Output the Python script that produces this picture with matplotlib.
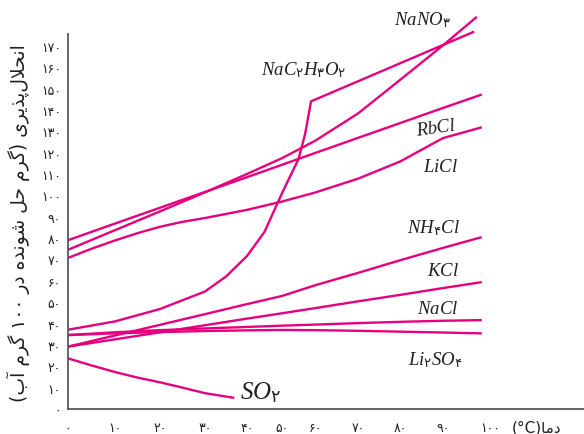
import numpy as np
import matplotlib
matplotlib.use('Agg')
from matplotlib import pyplot as plt

# temperatures (C) and solubilities (g per 100 g water)
temps = [0, 10, 20, 30, 40, 50, 60, 70, 80, 90, 98]
RbCl = [79.0, 86.8, 94.2, 101.6, 108.5, 114.3, 119.8, 126.9, 133.8, 140.9, 147.0]
NH4Cl = [29.2, 34.4, 39.4, 44.4, 49.1, 52.9, 57.9, 63.7, 69.6, 75.4, 80.3]
KCl = [29.2, 32.6, 35.9, 39.2, 42.3, 44.8, 47.2, 50.4, 53.4, 56.6, 59.3]
NaCl = [34.6, 35.9, 36.9, 37.7, 38.4, 39.0, 39.5, 40.2, 40.8, 41.3, 41.6]
Li2SO4 = [34.6, 35.4, 36.0, 36.5, 36.8, 37.0, 36.9, 36.6, 36.2, 35.8, 35.4]

LiCl_t = [0, 5, 10, 15, 20, 25, 30, 40, 50, 60, 70, 80, 90, 98]
LiCl = [70.7, 75.0, 78.9, 82.3, 85.3, 87.6, 89.4, 93.2, 97.1, 101.3, 107.8, 115.8, 126.8, 131.7]

NaNO3_t = [0, 10, 20, 30, 40, 50, 60, 70, 80, 90, 97]
NaNO3 = [74.5, 83.7, 92.5, 101.4, 110.0, 117.4, 125.5, 138.3, 154.0, 170.2, 183.2]

NaAc_t = [0, 10, 20, 30, 35, 40, 45, 50, 55, 57, 58.8, 96.4]
NaAc = [37.1, 41.0, 46.8, 55.0, 62.0, 71.6, 82.9, 101.0, 117.0, 128.7, 144.0, 176.4]

SO2_t = [0, 5, 10, 15, 20, 25, 30, 36.7]
SO2 = [23.7, 20.4, 17.3, 14.7, 12.5, 10.0, 7.4, 5.3]

xticks = [0, 10, 20, 30, 40, 50, 60, 70, 80, 90, 100]
yticks = list(range(0, 171, 10))

ylabel = 'انحلال‌پذیری (گرم حل شونده در ۱۰۰ گرم آب)'
xlabel = 'دما'

# the printed temperature axis is not evenly spaced
tick_px = [0, 47, 92, 137, 179, 214, 247, 290, 332, 375, 422, 516]
tick_t = xticks + [120]


def fwd(t):
    return np.interp(t, tick_t, tick_px)


def inv(p):
    return np.interp(p, tick_px, tick_t)


# --- tiny persian shaper (matplotlib 3.10 does no arabic shaping) ---
FORMS = {
    'ا': (0xFE8D, 0xFE8E), 'آ': (0xFE81, 0xFE82),
    'د': (0xFEA9, 0xFEAA), 'ذ': (0xFEAB, 0xFEAC),
    'ر': (0xFEAD, 0xFEAE), 'و': (0xFEED, 0xFEEE),
    'ب': (0xFE8F, 0xFE90, 0xFE91, 0xFE92), 'پ': (0xFB56, 0xFB57, 0xFB58, 0xFB59),
    'ح': (0xFEA1, 0xFEA2, 0xFEA3, 0xFEA4), 'ش': (0xFEB5, 0xFEB6, 0xFEB7, 0xFEB8),
    'گ': (0xFB92, 0xFB93, 0xFB94, 0xFB95), 'ل': (0xFEDD, 0xFEDE, 0xFEDF, 0xFEE0),
    'م': (0xFEE1, 0xFEE2, 0xFEE3, 0xFEE4), 'ن': (0xFEE5, 0xFEE6, 0xFEE7, 0xFEE8),
    'ه': (0xFEE9, 0xFEEA, 0xFEEB, 0xFEEC), 'ی': (0xFBFC, 0xFBFD, 0xFBFE, 0xFBFF),
}
LAMALEF = {'ا': (0xFEFB, 0xFEFC), 'آ': (0xFEF5, 0xFEF6)}
DIGITS = '۰۱۲۳۴۵۶۷۸۹'
MIRROR = {'(': ')', ')': '('}


def shape(s):
    out = []
    i = 0
    while i < len(s):
        c = s[i]
        if c not in FORMS:
            if c != '\u200c':
                out.append(c)
            i += 1
            continue
        prev_join = i > 0 and s[i - 1] in FORMS and len(FORMS[s[i - 1]]) == 4
        if c == 'ل' and i + 1 < len(s) and s[i + 1] in LAMALEF:
            out.append(chr(LAMALEF[s[i + 1]][1 if prev_join else 0]))
            i += 2
            continue
        f = FORMS[c]
        next_join = len(f) == 4 and i + 1 < len(s) and s[i + 1] in FORMS
        if len(f) == 2:
            out.append(chr(f[1] if prev_join else f[0]))
        else:
            out.append(chr(f[(1 if prev_join else 0) + (2 if next_join else 0)] if not (prev_join and next_join) else f[3]))
        i += 1
    shaped = ''.join(out)
    # visual order: digit runs stay left-to-right, the rest is reversed
    runs, cur, cur_d = [], '', None
    for ch in shaped:
        d = ch in DIGITS
        if cur and d != cur_d:
            runs.append((cur, cur_d))
            cur = ''
        cur += ch
        cur_d = d
    runs.append((cur, cur_d))
    vis = ''
    for txt, d in reversed(runs):
        vis += txt if d else ''.join(MIRROR.get(ch, ch) for ch in reversed(txt))
    return vis


def fa_num(n):
    return ''.join(DIGITS[int(ch)] for ch in str(n))


# formulas: italic serif letters, persian digits from DejaVu Sans
plt.rcParams['mathtext.fontset'] = 'custom'
plt.rcParams['mathtext.it'] = 'Liberation Serif:italic'
plt.rcParams['mathtext.rm'] = 'DejaVu Sans'
plt.rcParams['mathtext.default'] = 'it'


def formula(s):
    body = ''.join(r'_{\mathrm{%s}}' % ch if ch in DIGITS else ch for ch in s)
    return '$' + body + '$'


pink = '#e6007e'
ink = '#231f20'
lw = 1.7

fig = plt.figure(figsize=(5.84, 4.35), dpi=100)
ax = fig.add_axes([68 / 584, 25 / 435, 516 / 584, 410 / 435])
ax.set_xscale('function', functions=(fwd, inv))

for t, v in [(temps, RbCl), (LiCl_t, LiCl), (temps, NH4Cl), (temps, KCl),
             (temps, NaCl), (temps, Li2SO4), (NaNO3_t, NaNO3),
             (NaAc_t, NaAc), (SO2_t, SO2)]:
    ax.plot(t, v, color=pink, linewidth=lw, solid_joinstyle='miter')

ax.set_xlim(0, 120)
ax.set_ylim(0, 191.9)

for side in ['top', 'right']:
    ax.spines[side].set_visible(False)
for side in ['left', 'bottom']:
    ax.spines[side].set_color('#58595b')
    ax.spines[side].set_linewidth(1.3)
ax.spines['left'].set_bounds(0, 175.5)

ax.set_xticks(xticks)
ax.set_xticklabels([fa_num(x) for x in xticks], fontsize=9, color=ink)
ax.set_yticks(yticks)
ax.set_yticklabels([fa_num(y) for y in yticks], fontsize=9, color=ink)
ax.tick_params(axis='x', length=0, pad=9)
ax.tick_params(axis='y', length=0, pad=5)

ax.text(110.0, -0.044, '(°C)' + shape(xlabel), transform=ax.get_xaxis_transform(),
        ha='center', va='center', fontsize=11, color=ink)
fig.text(18 / 584, 1 - 223 / 435, shape(ylabel), rotation=90, ha='center', va='center',
         fontsize=13.5, color=ink)

lab = dict(color=ink, ha='center', va='center', fontsize=13.5)
ax.text(85.3, 182.5, formula('NaNO۳'), **lab)
ax.text(56.4, 159.1, formula('NaC۲H۳O۲'), **lab)
ax.text(88.4, 132.0, formula('RbCl'), rotation=8, **lab)
ax.text(89.5, 114.2, formula('LiCl'), **lab)
ax.text(87.9, 85.2, formula('NH۴Cl'), **lab)
ax.text(90.0, 65.5, formula('KCl'), **lab)
ax.text(88.8, 47.3, formula('NaCl'), **lab)
ax.text(88.1, 23.4, formula('Li۲SO۴'), **lab)
lab['fontsize'] = 18
ax.text(44.0, 8.0, formula('SO۲'), **lab)

fig.savefig('out.png', dpi=100)
